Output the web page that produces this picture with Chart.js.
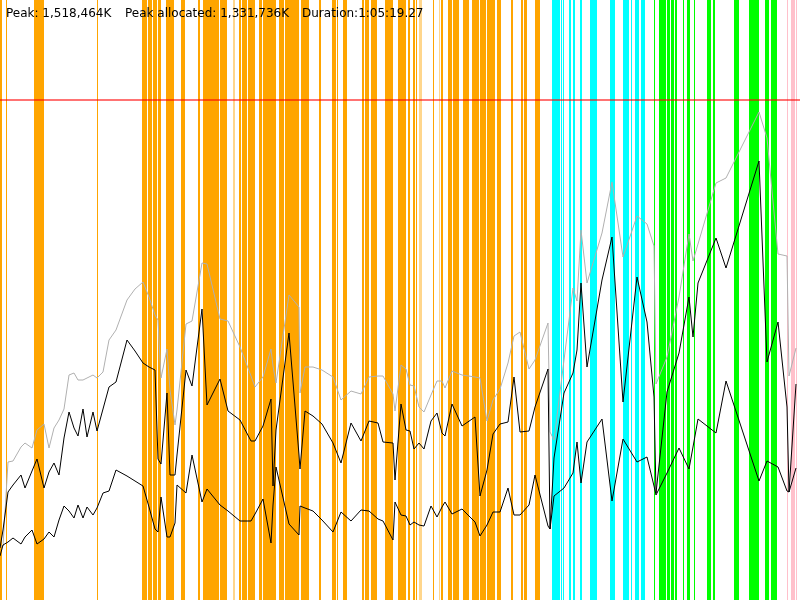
<!DOCTYPE html>
<html lang="en">
<head>
  <meta charset="UTF-8" />
  <title>Memory usage</title>
  <script src="https://cdn.jsdelivr.net/npm/chart.js"></script>
  <style>
    html, body { margin: 0; padding: 0; background: #fff; }
    #wrap { width: 800px; height: 600px; }
  </style>
</head>
<body>

<div id="wrap"><canvas id="memChart"></canvas></div>

<script>
  // sample times (0-800 spans the whole run)
  const times = [
    0, 3, 8, 13, 21, 25, 32, 37, 44, 49,
    54, 59, 64, 69, 74, 78, 83, 87, 93, 97,
    103, 109, 116, 127, 135, 143, 149, 155, 158, 161,
    167, 170, 175, 177, 186, 192, 202, 207, 220, 228,
    240, 251, 255, 263, 271, 273, 276, 289, 299, 300,
    305, 313, 322, 333, 341, 351, 361, 369, 378, 383,
    393, 395, 401, 406, 410, 414, 419, 424, 431, 437,
    442, 445, 452, 462, 475, 480, 487, 493, 500, 508,
    514, 520, 529, 535, 548, 550, 554, 564, 573, 577,
    581, 587, 602, 612, 623, 637, 647, 654, 656, 667,
    679, 689, 693, 698, 716, 726, 759, 767, 778, 787,
    789, 796
  ];

  // memory, in units of ~3MB (peak 1,518,464K sits at 500)
  const heapCommitted = [
    54, 54, 138, 139, 153, 157, 152, 170, 176, 152,
    172, 180, 191, 225, 227, 220, 220, 222, 225, 222,
    228, 260, 270, 300, 311, 318, 303, 285, 280, 222,
    251, 210, 175, 190, 276, 279, 337, 336, 281, 279,
    253, 224, 213, 223, 251, 234, 217, 305, 293, 207,
    233, 233, 230, 223, 200, 209, 206, 223, 224, 224,
    206, 189, 235, 231, 215, 214, 193, 188, 205, 219,
    219, 212, 229, 225, 223, 222, 179, 200, 211, 237,
    264, 268, 231, 240, 277, 168, 160, 240, 312, 299,
    370, 317, 367, 418, 343, 384, 376, 354, 216, 243,
    303, 366, 339, 356, 417, 422, 488, 462, 346, 344,
    224, 252
  ];
  const heapUsed = [
    52, 70, 108, 115, 125, 112, 129, 141, 112, 128,
    137, 125, 162, 188, 172, 164, 191, 163, 188, 169,
    191, 213, 218, 260, 249, 237, 233, 230, 141, 136,
    207, 125, 125, 145, 230, 214, 291, 195, 221, 189,
    180, 159, 159, 174, 201, 114, 170, 267, 145, 131,
    189, 184, 176, 157, 137, 177, 159, 179, 177, 158,
    157, 120, 196, 170, 169, 151, 157, 151, 179, 187,
    167, 164, 196, 174, 183, 104, 130, 166, 176, 178,
    223, 168, 169, 193, 231, 71, 142, 207, 227, 250,
    317, 233, 320, 363, 198, 323, 278, 203, 107, 208,
    247, 303, 263, 317, 362, 332, 439, 238, 278, 193,
    108, 216
  ];
  const heapLive = [
    44, 55, 58, 62, 56, 63, 70, 56, 61, 68,
    63, 80, 94, 89, 82, 95, 82, 93, 85, 92,
    107, 109, 130, 124, 119, 114, 93, 71, 68, 103,
    63, 63, 77, 115, 107, 145, 98, 111, 95, 89,
    79, 79, 86, 101, 57, 95, 133, 76, 65, 94,
    92, 89, 80, 68, 88, 79, 90, 89, 81, 79,
    60, 98, 85, 84, 75, 78, 75, 74, 94, 83,
    93, 98, 86, 91, 78, 64, 75, 88, 88, 112,
    85, 85, 95, 125, 74, 71, 104, 112, 127, 158,
    117, 158, 181, 99, 161, 138, 143, 114, 105, 127,
    152, 131, 153, 181, 167, 219, 119, 139, 133, 109,
    108, 132
  ];
  const peakLevel = 500;

  // collection events as [start, end] times
  const youngGc = [
    [0, 2], [6, 7], [34, 44], [97, 98], [142, 147], [148, 152], [153, 157], [158, 161],
    [166, 174], [181, 185], [198, 200], [203, 219], [220, 227], [229, 230], [231, 232],
    [239, 241], [242, 247], [248, 255], [259, 262], [263, 276], [279, 284], [285, 299],
    [301, 309], [319, 321], [332, 336], [337, 338], [343, 347], [362, 364], [365, 369],
    [371, 377], [385, 393], [398, 406], [408, 410], [413, 415], [416, 417], [433, 434],
    [441, 443], [448, 452], [453, 459], [463, 469], [472, 479], [480, 486], [487, 495],
    [497, 501], [511, 513], [521, 523], [524, 527], [535, 540]
  ];
  const youngGcShort = [[233, 235], [389, 390], [419, 422], [439, 440], [490, 492]];
  const mixedGc = [
    [552, 560], [561, 562], [563, 564], [569, 571], [573, 575], [580, 582], [590, 597],
    [610, 615], [623, 629], [631, 632], [635, 639], [641, 645]
  ];
  const fullGc = [
    [654, 655], [659, 666], [667, 670], [671, 674], [675, 677], [683, 684], [687, 690],
    [694, 695], [707, 711], [713, 715], [734, 739], [749, 751], [751, 757], [757, 759],
    [765, 769], [771, 777]
  ];
  const otherGc = [[787, 788], [791, 795], [796, 797]];

  const summary = ['Peak: 1,518,464K', 'Peak allocated: 1,331,736K', 'Duration:1:05:19.27'];
  const summaryX = [6, 125, 302];

  const xMax = 800;
  const yMax = 600;

  function series(values) {
    return times.map((t, i) => ({ x: t, y: values[i] }));
  }

  // each event becomes a filled box from the bottom to the top of the plot
  function stripes(ranges) {
    const pts = [];
    ranges.forEach(([s, e]) => {
      pts.push({ x: s, y: 0 }, { x: s, y: yMax }, { x: e, y: yMax }, { x: e, y: 0 });
    });
    return pts;
  }

  function stripeSet(ranges, color) {
    return {
      data: stripes(ranges),
      showLine: true,
      fill: 'origin',
      backgroundColor: color,
      borderWidth: 0,
      pointRadius: 0,
      order: 10
    };
  }

  function lineSet(values, color) {
    return {
      data: series(values),
      showLine: true,
      borderColor: color,
      borderWidth: 1,
      pointRadius: 0,
      tension: 0,
      order: 2
    };
  }

  const summaryPlugin = {
    id: 'summary',
    afterDraw(chart) {
      const ctx = chart.ctx;
      ctx.save();
      ctx.font = '12px "DejaVu Sans", sans-serif';
      ctx.fillStyle = '#000';
      summary.forEach((t, i) => ctx.fillText(t, summaryX[i], 17));
      ctx.restore();
    }
  };

  new Chart(document.getElementById('memChart'), {
    type: 'scatter',
    data: {
      datasets: [
        {
          data: [{ x: 0, y: peakLevel }, { x: xMax, y: peakLevel }],
          showLine: true,
          borderColor: 'rgba(255, 0, 0, 0.55)',
          borderWidth: 2,
          pointRadius: 0,
          order: 0
        },
        lineSet(heapUsed, '#000000'),
        lineSet(heapLive, '#000000'),
        lineSet(heapCommitted, '#b0b0b0'),
        stripeSet(youngGc, '#ffa500'),
        stripeSet(youngGcShort, 'rgba(255, 165, 0, 0.45)'),
        stripeSet(mixedGc, '#00ffff'),
        stripeSet(fullGc, '#00ff00'),
        stripeSet(otherGc, '#ffc0cb')
      ]
    },
    options: {
      responsive: true,
      maintainAspectRatio: false,
      animation: false,
      events: [],
      layout: { padding: 0 },
      plugins: { legend: { display: false }, tooltip: { enabled: false } },
      scales: {
        x: { type: 'linear', min: 0, max: xMax, display: false },
        y: { type: 'linear', min: 0, max: yMax, display: false }
      }
    },
    plugins: [summaryPlugin]
  });
</script>

</body>
</html>
